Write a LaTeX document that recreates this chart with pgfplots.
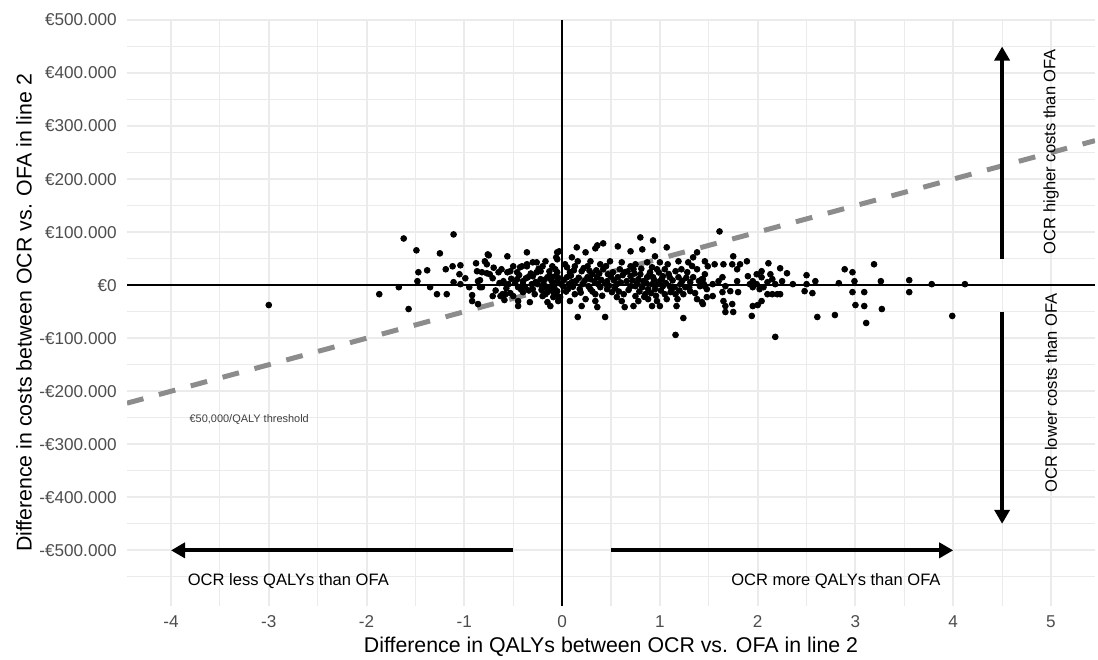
\documentclass[border=0pt]{standalone}
\usepackage{fontspec}
\setmainfont{Liberation Sans}
\usepackage{pgfplots}
\usepackage{pgfplotstable}
\pgfplotsset{compat=1.18}
\usetikzlibrary{arrows.meta}
\definecolor{gridc}{HTML}{EBEBEB}
\definecolor{ticktxt}{HTML}{4D4D4D}
\definecolor{thresh}{HTML}{8C8C8C}

% incremental QALYs (x) vs incremental costs in EUR (y)
\pgfplotstableread{
x y
-3.00 -37500
-1.87 -17000
-1.67 -3800
-1.62 88000
-1.57 -45000
-1.49 65700
-1.48 7500
-1.47 24400
-1.38 28000
-1.35 -3800
-1.28 -17000
-1.25 60000
-1.19 30000
-1.18 -17000
-1.12 35600
-1.11 95700
-1.11 5600
-1.05 20600
-1.04 37500
-1.04 1900
-0.99 13000
-0.95 -3800
-0.92 -18800
-0.92 -30000
-0.88 41300
-0.87 26300
-0.86 -35600
-0.84 9400
-0.82 -3800
-0.79 45000
-0.77 39400
-0.77 22500
-0.75 56300
-0.71 13100
-0.71 -20600
-0.65 24400
-0.63 -20600
-0.62 30000
-0.59 -28000
-0.58 -17000
-0.56 54400
-0.53 26300
-0.50 -20600
-0.46 11300
-0.45 -39400
-0.43 33800
-0.40 1900
-0.36 61900
-0.36 35600
-0.33 -32000
-0.30 43100
-0.26 24400
-0.22 11300
-0.20 -3800
-0.20 35600
-0.17 -17000
-0.15 -32000
-0.82 24400
-0.86 7500
-0.84 -3800
-0.74 20600
-0.60 7500
-0.61 -17000
-0.56 24400
-0.55 1900
-0.53 -15000
-0.50 35600
-0.46 24400
-0.45 -3800
-0.45 -30000
-0.41 35600
-0.40 7500
-0.40 -13100
-0.36 39400
-0.35 15000
-0.30 16900
-0.30 -7500
-0.26 43100
-0.25 1900
-0.22 26300
-0.20 -20600
-0.17 45000
-0.15 15000
-0.14 -7500
-0.12 -39400
-0.10 35600
-0.07 30000
-0.05 7500
-0.05 48800
-0.05 62000
-0.05 -20600
-0.04 -30000
-0.76 58000
-0.19 1900
-0.09 -1900
-0.12 16900
-0.31 1900
-0.38 -3800
-0.28 -17000
-0.15 -13100
-0.09 -22500
-0.02 3000
-0.04 14000
-0.08 -6000
-0.11 9000
-0.13 26000
-0.16 -3000
-0.18 10000
-0.21 -9000
-0.24 31000
-0.27 6000
-0.32 22000
-0.34 -10000
-0.37 13000
-0.42 -8000
-0.44 19000
-0.48 4000
-0.52 12000
-0.57 -6000
-0.64 4000
-0.68 -10000
-0.70 33000
0.16 -60000
0.44 -60000
1.16 -93800
1.24 -62000
1.17 -39400
0.80 90000
0.93 84400
0.42 78800
0.57 73100
0.70 63800
0.82 67500
1.07 71300
0.15 71300
0.24 61900
0.34 69400
0.36 75000
-0.03 63800
-0.06 52500
0.10 52500
0.03 39400
0.16 45000
0.29 45000
0.39 39400
0.49 45000
0.61 43100
0.75 39400
0.87 43100
0.95 54400
1.00 43100
1.08 39400
1.19 45000
1.29 43100
1.38 61900
1.34 52500
-0.05 24400
0.08 24400
0.20 26300
0.31 20600
0.42 30000
0.52 24400
0.64 24400
0.73 30000
0.80 20600
0.90 24400
0.97 30000
1.03 16900
1.16 26300
1.28 24400
1.38 30000
1.46 20600
-0.10 5600
0.01 -1900
0.10 5600
0.21 1900
0.29 11300
0.37 1900
0.46 7500
0.56 1900
0.66 7500
0.75 -1900
0.83 7500
0.92 1900
1.00 7500
1.10 -1900
1.21 1900
1.31 5600
1.41 -1900
-0.09 -13100
-0.02 -22500
0.13 -17000
0.24 -26300
0.34 -17000
0.34 -30000
0.36 -41300
0.51 -13100
0.56 -22500
0.61 -30000
0.75 -20600
0.78 -30000
0.85 -17000
0.88 -26300
0.97 -30000
1.00 -39400
1.05 -17000
1.16 -17000
1.24 -17000
1.38 -26300
1.44 -35600
-0.07 16900
0.05 15000
0.05 33800
0.13 35600
0.26 35600
0.26 15000
0.36 15000
0.39 -3800
0.46 -7500
0.47 20600
0.57 15000
0.59 30000
0.70 16900
0.70 -1900
0.70 35600
0.78 11300
0.82 -3800
0.87 15000
0.88 -7500
0.92 33800
0.93 15000
0.95 -7500
0.98 1900
1.03 -1900
1.05 30000
1.10 15000
1.12 -7500
1.19 15000
1.22 30000
1.26 -3800
1.31 -11300
1.34 15000
1.43 11300
1.48 -7500
0.18 -7500
0.29 -7500
0.06 -7500
-0.05 -11300
0.20 -39400
0.08 -30000
0.64 -41300
0.73 -39400
0.92 -39400
1.07 -26300
1.18 -26300
0.02 10000
0.04 -12000
0.07 2000
0.09 18000
0.11 -3000
0.12 28000
0.14 8000
0.17 14000
0.19 -14000
0.22 32000
0.23 8000
0.27 -2000
0.28 27000
0.31 -12000
0.33 7000
0.35 28000
0.38 22000
0.40 10000
0.41 -20000
0.44 3000
0.45 36000
0.48 -1000
0.50 16000
0.53 9000
0.54 -6000
0.58 -12000
0.60 5000
0.62 19000
0.63 -17000
0.67 26000
0.68 -9000
0.72 9000
0.74 22000
0.77 3000
0.79 -12000
0.81 31000
0.84 -22000
0.86 4000
0.89 19000
0.91 -15000
0.94 10000
0.96 -20000
0.99 24000
1.01 -10000
1.02 12000
1.06 4000
1.09 21000
1.11 -13000
1.13 9000
1.15 -4000
1.20 -10000
1.23 8000
1.27 14000
1.30 -4000
1.33 36000
1.36 -15000
1.40 8000
1.45 2000
1.61 101300
1.75 54400
1.46 45000
1.49 35600
1.56 39400
1.65 39400
1.74 39400
1.82 39400
1.89 45000
1.79 30000
2.11 41300
2.23 31900
2.04 26300
2.30 22500
2.50 18800
2.59 7500
2.89 30000
2.97 24400
2.83 3800
2.99 7500
2.97 -13100
3.00 -37500
1.44 11300
1.46 -1900
1.54 1900
1.60 7500
1.64 15000
1.67 -1900
1.72 -11300
1.79 7500
1.48 -22500
1.54 -20600
1.64 -13100
1.65 -30000
1.67 -39400
1.67 -50600
1.75 -50600
1.74 -35600
1.80 -13100
1.43 -32000
1.90 16900
1.92 1900
1.95 -3800
1.99 1900
2.02 -7500
2.06 -3800
2.10 5600
2.15 11300
2.18 1900
2.25 7500
1.95 7500
1.99 20600
2.04 15000
2.13 20600
2.10 -17000
2.15 -17000
2.20 -17000
2.23 -17000
2.04 -30000
1.95 -39400
2.00 -37500
1.94 -58000
2.18 -97500
2.36 1900
2.48 -11300
2.50 1900
2.56 -15000
2.61 -60000
2.79 -56300
3.09 -13100
3.09 -39400
3.11 -71300
3.19 39400
3.26 7500
3.27 -45000
3.55 9400
3.55 -13100
3.78 1900
3.99 -58000
4.12 1900
}\psa

\begin{document}
\begin{tikzpicture}
\begin{axis}[
  width=484bp, height=293bp, scale only axis,
  xmin=-4.45, xmax=5.45, ymin=-605000, ymax=500000,
  axis line style={draw=none},
  major tick length=0pt, minor tick length=0pt,
  xtick={-4,-3,-2,-1,0,1,2,3,4,5},
  xticklabels={-4,-3,-2,-1,0,1,2,3,4,5},
  minor xtick={-3.5,-2.5,-1.5,-0.5,0.5,1.5,2.5,3.5,4.5},
  ytick={-500000,-400000,-300000,-200000,-100000,0,100000,200000,300000,400000,500000},
  yticklabels={-€500.000,-€400.000,-€300.000,-€200.000,-€100.000,€0,€100.000,€200.000,€300.000,€400.000,€500.000},
  minor ytick={-550000,-450000,-350000,-250000,-150000,-50000,50000,150000,250000,350000,450000},
  scaled y ticks=false,
  grid=both,
  major grid style={gridc, line width=1bp},
  minor grid style={gridc, line width=0.55bp},
  x tick label style={font=\fontsize{8.6}{10}\selectfont, text=ticktxt, anchor=base, inner sep=0pt, yshift=-10.5bp},
  y tick label style={font=\fontsize{8.6}{10}\selectfont, text=ticktxt, anchor=east, inner sep=0pt, xshift=-5bp},
]
\addplot[thresh, line width=2.5bp, dash pattern=on 8.5bp off 8bp] coordinates {(-4.45,-222500) (5.45,272500)};
\addplot[black, line width=1bp] coordinates {(-4.45,0) (5.45,0)};
\addplot[black, line width=1bp] coordinates {(0,-605000) (0,500000)};
\addplot[only marks, mark=*, mark size=1.45bp, mark options={fill=black, draw=none}] table {\psa};

\addplot[black, line width=2.1bp, -{Triangle[length=7bp,width=7.5bp]}] coordinates {(-0.5,-500000) (-4,-500000)};
\addplot[black, line width=2.1bp, -{Triangle[length=7bp,width=7.5bp]}] coordinates {(0.5,-500000) (4,-500000)};
\addplot[black, line width=2.1bp, -{Triangle[length=7bp,width=7.5bp]}] coordinates {(4.5,50000) (4.5,450000)};
\addplot[black, line width=2.1bp, -{Triangle[length=7bp,width=7.5bp]}] coordinates {(4.5,-50000) (4.5,-450000)};

\node[font=\fontsize{8.3}{10}\selectfont] at (axis cs:-2.8,-557000) {OCR less QALYs than OFA};
\node[font=\fontsize{8.3}{10}\selectfont] at (axis cs:2.8,-557000) {OCR more QALYs than OFA};
\node[font=\fontsize{8.3}{10}\selectfont, rotate=90] at (axis cs:5,252000) {OCR higher costs than OFA};
\node[font=\fontsize{8.3}{10}\selectfont, rotate=90] at (axis cs:5,-203000) {OCR lower costs than OFA};
\node[font=\fontsize{5.5}{6}\selectfont, text=black!75] at (axis cs:-3.2,-253000) {€50,000/QALY threshold};
\end{axis}
\node[font=\fontsize{10.7}{12}\selectfont, anchor=base] at ([yshift=-23bp]current axis.south) {Difference in QALYs between OCR vs. OFA in line 2};
\node[font=\fontsize{10.7}{12}\selectfont, rotate=90] at ([xshift=-51.5bp]current axis.west) {Difference in costs between OCR vs. OFA in line 2};
\pgfresetboundingbox
\path[use as bounding box] ([shift={(-63.5bp,-26.5bp)}]current axis.south west) rectangle ([shift={(1.5bp,10bp)}]current axis.north east);
\end{tikzpicture}
\end{document}
